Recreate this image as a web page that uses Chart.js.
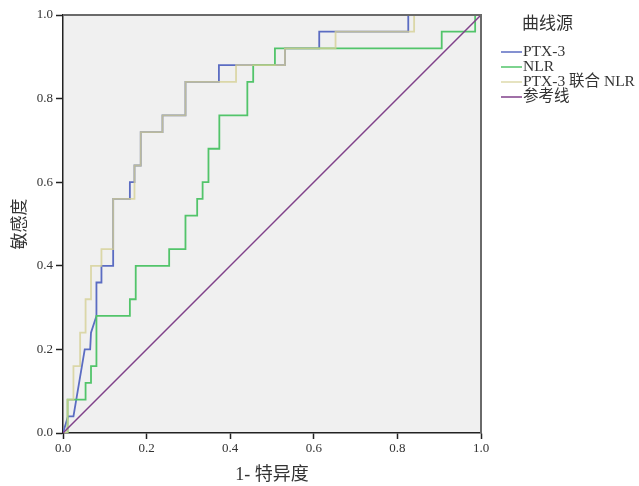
<!DOCTYPE html>
<html>
<head>
<meta charset="utf-8">
<script src="https://cdn.jsdelivr.net/npm/chart.js@4.4.1/dist/chart.umd.min.js"></script>
<style>
html,body{margin:0;padding:0;background:#fff;}
#wrap{position:relative;width:639px;height:486px;}
</style>
</head>
<body>
<div id="wrap"><canvas id="c" width="639" height="486"></canvas></div>
<script>
// ---- data (1 - specificity, sensitivity) ----
const ptx3Fpr = [0, 0.012, 0.025, 0.052, 0.065, 0.067, 0.08, 0.08, 0.092, 0.092, 0.12, 0.12, 0.16, 0.16, 0.171, 0.171, 0.186, 0.186, 0.238, 0.238, 0.293, 0.293, 0.373, 0.373, 0.531, 0.531, 0.613, 0.613, 0.826, 0.826, 1];
const ptx3Tpr = [0, 0.04, 0.04, 0.20, 0.20, 0.24, 0.28, 0.36, 0.36, 0.40, 0.40, 0.56, 0.56, 0.60, 0.60, 0.64, 0.64, 0.72, 0.72, 0.76, 0.76, 0.84, 0.84, 0.88, 0.88, 0.92, 0.92, 0.96, 0.96, 1.00, 1];

const nlrFpr = [0, 0.011, 0.011, 0.054, 0.054, 0.067, 0.067, 0.08, 0.08, 0.16, 0.16, 0.174, 0.174, 0.254, 0.254, 0.293, 0.293, 0.321, 0.321, 0.334, 0.334, 0.348, 0.348, 0.374, 0.374, 0.441, 0.441, 0.455, 0.455, 0.507, 0.507, 0.906, 0.906, 0.986, 0.986, 1];
const nlrTpr = [0, 0, 0.08, 0.08, 0.12, 0.12, 0.16, 0.16, 0.28, 0.28, 0.32, 0.32, 0.40, 0.40, 0.44, 0.44, 0.52, 0.52, 0.56, 0.56, 0.60, 0.60, 0.68, 0.68, 0.76, 0.76, 0.84, 0.84, 0.88, 0.88, 0.92, 0.92, 0.96, 0.96, 1.00, 1];

const comboFpr = [0, 0.011, 0.011, 0.025, 0.025, 0.041, 0.041, 0.054, 0.054, 0.067, 0.067, 0.092, 0.092, 0.12, 0.12, 0.171, 0.171, 0.186, 0.186, 0.238, 0.238, 0.293, 0.293, 0.414, 0.414, 0.531, 0.531, 0.652, 0.652, 0.84, 0.84, 1];
const comboTpr = [0, 0, 0.08, 0.08, 0.16, 0.16, 0.24, 0.24, 0.32, 0.32, 0.40, 0.40, 0.44, 0.44, 0.56, 0.56, 0.64, 0.64, 0.72, 0.72, 0.76, 0.76, 0.84, 0.84, 0.88, 0.88, 0.92, 0.92, 0.96, 0.96, 1.00, 1];

const refFpr = [0, 1];
const refTpr = [0, 1];

const seriesNames = ['PTX-3', 'NLR', 'PTX-3 联合 NLR', '参考线'];
const tickValues = [0, 0.2, 0.4, 0.6, 0.8, 1.0];
const legendTitle = '曲线源';
const xTitle = '1- 特异度';
const yTitle = '敏感度';

const colors = ['#5b6cc2', '#52c46a', 'rgba(213,207,147,0.78)', '#80418a'];

function pts(xs, ys){ return xs.map((x,i)=>({x:x, y:ys[i]})); }

const serif = "'Liberation Serif', 'Noto Sans CJK SC', serif";

const bgPlugin = {
  id: 'bg',
  beforeDraw(chart){
    const {ctx, chartArea:a} = chart;
    ctx.save();
    ctx.fillStyle = '#f0f0f0';
    ctx.fillRect(a.left, a.top, a.right - a.left, a.bottom - a.top);
    ctx.restore();
  },
  afterDraw(chart){
    const {ctx, chartArea:a} = chart;
    ctx.save();
    // top and right frame
    ctx.strokeStyle = '#6a6a6a';
    ctx.lineWidth = 2;
    ctx.beginPath();
    ctx.moveTo(a.left, a.top);
    ctx.lineTo(a.right, a.top);
    ctx.lineTo(a.right, a.bottom);
    ctx.stroke();
    // legend
    const lx = a.right + 20;
    ctx.fillStyle = '#333';
    ctx.textBaseline = 'middle';
    ctx.textAlign = 'left';
    ctx.font = '17px ' + serif;
    ctx.fillText(legendTitle, lx + 21, 25);
    ctx.font = '15.5px ' + serif;
    for (let i = 0; i < seriesNames.length; i++) {
      const y = 52 + i * 15;
      ctx.strokeStyle = colors[i];
      ctx.lineWidth = 1.5;
      ctx.beginPath();
      ctx.moveTo(lx, y);
      ctx.lineTo(lx + 21, y);
      ctx.stroke();
      ctx.fillStyle = '#333';
      ctx.fillText(seriesNames[i], lx + 22, y);
    }
    ctx.restore();
  }
};

const ds = (label, data, color, order, width) => ({
  label, data, borderColor: color, backgroundColor: color,
  borderWidth: width, pointRadius: 0, pointHoverRadius: 0, fill: false,
  tension: 0, order
});

new Chart(document.getElementById('c'), {
  type: 'line',
  data: {
    datasets: [
      ds(seriesNames[0], pts(ptx3Fpr, ptx3Tpr), colors[0], 3, 1.8),
      ds(seriesNames[1], pts(nlrFpr, nlrTpr), colors[1], 2, 1.8),
      ds(seriesNames[2], pts(comboFpr, comboTpr), colors[2], 1, 1.8),
      ds(seriesNames[3], pts(refFpr, refTpr), colors[3], 0, 1.5)
    ]
  },
  options: {
    responsive: false,
    animation: false,
    events: [],
    layout: { padding: { left: 0, top: 15, right: 158, bottom: 0 } },
    plugins: { legend: { display: false }, tooltip: { enabled: false } },
    scales: {
      x: {
        type: 'linear', min: 0, max: 1,
        afterFit(s){ s.height = 53; },
        afterBuildTicks(s){ s.ticks = tickValues.map(v=>({value:v})); },
        ticks: { callback: v => v.toFixed(1), font: { family: serif, size: 13 }, color: '#333', padding: 2, maxRotation: 0 },
        grid: { drawOnChartArea: false, tickLength: 6, color: '#222', tickWidth: 1.5 },
        border: { display: true, color: '#222', width: 1.5 },
        title: { display: true, text: xTitle, font: { family: serif, size: 18 }, color: '#333', padding: { top: 0, bottom: 0 } }
      },
      y: {
        type: 'linear', min: 0, max: 1,
        afterFit(s){ s.width = 63; },
        afterBuildTicks(s){ s.ticks = tickValues.map(v=>({value:v})); },
        ticks: { callback: v => v.toFixed(1), font: { family: serif, size: 13 }, color: '#333', padding: 3 },
        grid: { drawOnChartArea: false, tickLength: 7, color: '#222', tickWidth: 1.5 },
        border: { display: true, color: '#222', width: 1.5 },
        title: { display: true, text: yTitle, font: { family: serif, size: 17 }, color: '#333', padding: { top: 10, bottom: 0 } }
      }
    }
  },
  plugins: [bgPlugin]
});
</script>
</body>
</html>
